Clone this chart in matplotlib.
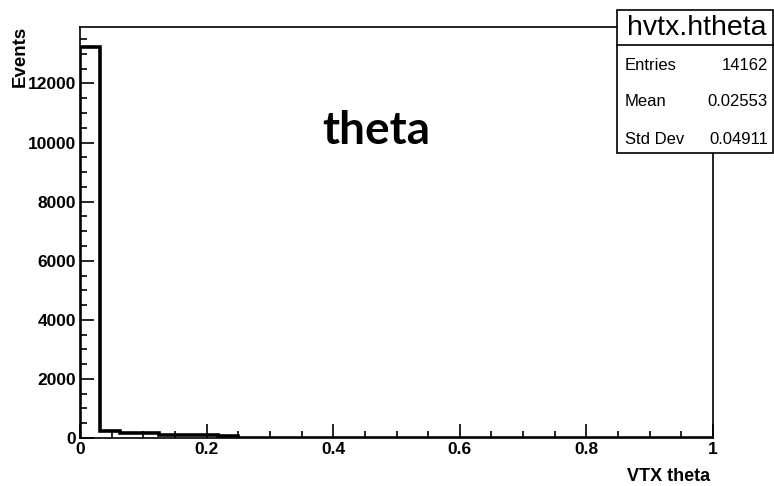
import numpy as np
import matplotlib
matplotlib.use("Agg")
import matplotlib.pyplot as plt
from matplotlib.ticker import MultipleLocator, FuncFormatter
from matplotlib.patches import Rectangle
from matplotlib.lines import Line2D

# histogram hvtx.htheta, 32 bins in [0, 1]
bin_edges = np.linspace(0, 1, 33)
counts = [13250, 250, 180, 160, 110, 100, 90, 80,
          10, 9, 8, 7, 6, 5, 5, 4,
          4, 3, 3, 3, 2, 2, 2, 2,
          1, 1, 1, 1, 1, 1, 1, 1]

stat_names = ["Entries", "Mean", "Std Dev"]
stat_values = ["14162", "0.02553", "0.04911"]
hist_name = "hvtx.htheta"

W, H = 774, 486
fig = plt.figure(figsize=(W / 100, H / 100), dpi=100)
fig.patch.set_facecolor("white")

# axes frame in pixels
x0, x1, y0, y1 = 80, 713, 27, 438
ax = fig.add_axes([x0 / W, 1 - y1 / H, (x1 - x0) / W, (y1 - y0) / H])

ax.stairs(counts, bin_edges, color="black", linewidth=2.6, baseline=0)
ax.set_xlim(0, 1)
ax.set_ylim(0, max(counts) * 1.05)

ax.xaxis.set_major_locator(MultipleLocator(0.2))
ax.xaxis.set_minor_locator(MultipleLocator(0.05))
ax.yaxis.set_major_locator(MultipleLocator(2000))
ax.yaxis.set_minor_locator(MultipleLocator(500))
ax.xaxis.set_major_formatter(FuncFormatter(lambda v, p: "%g" % round(v, 2)))
ax.yaxis.set_major_formatter(FuncFormatter(lambda v, p: "%d" % v))

ax.tick_params(which="both", direction="in", top=False, right=False, width=1.2)
ax.tick_params(which="major", length=10)
ax.tick_params(which="minor", length=5)
ax.tick_params(axis="x", pad=3)
ax.tick_params(axis="y", pad=3)
for lab in ax.get_xticklabels() + ax.get_yticklabels():
    lab.set_fontfamily("Liberation Sans")
    lab.set_fontweight("bold")
    lab.set_fontsize(12.5)
for sp in ax.spines.values():
    sp.set_linewidth(1.2)

fig.text(20 / W, 1 - 26 / H, "Events", rotation=90, ha="center", va="top",
         fontfamily="Liberation Sans", fontweight="bold", fontsize=13.5)
fig.text(710 / W, 1 - 476 / H, "VTX theta", ha="right", va="center",
         fontfamily="Liberation Sans", fontweight="bold", fontsize=13)

fig.text(376 / W, 1 - 131 / H, "theta", ha="center", va="center",
         fontfamily="Lato", fontweight="bold", fontsize=33)

# stats box
bx0, by0, by1 = 617, 10, 153
fig.patches.append(Rectangle((bx0 / W, 1 - by1 / H), (W - 1 - bx0) / W, (by1 - by0) / H,
                             transform=fig.transFigure, facecolor="white",
                             edgecolor="black", linewidth=1.2, zorder=5))
fig.lines.append(Line2D([bx0 / W, 1], [1 - 45 / H, 1 - 45 / H],
                        transform=fig.transFigure, color="black", linewidth=1.2, zorder=6))
fig.text(697 / W, 1 - 28 / H, hist_name, ha="center", va="center",
         fontfamily="Liberation Sans", fontsize=20.5, zorder=7)
row_y = [65, 101, 139]
for name, val, ry in zip(stat_names, stat_values, row_y):
    fig.text(625 / W, 1 - ry / H, name, ha="left", va="center",
             fontfamily="Liberation Sans", fontsize=12, zorder=7)
    fig.text(768 / W, 1 - ry / H, val, ha="right", va="center",
             fontfamily="Liberation Sans", fontsize=12, zorder=7)

fig.savefig("out.png", dpi=100)
